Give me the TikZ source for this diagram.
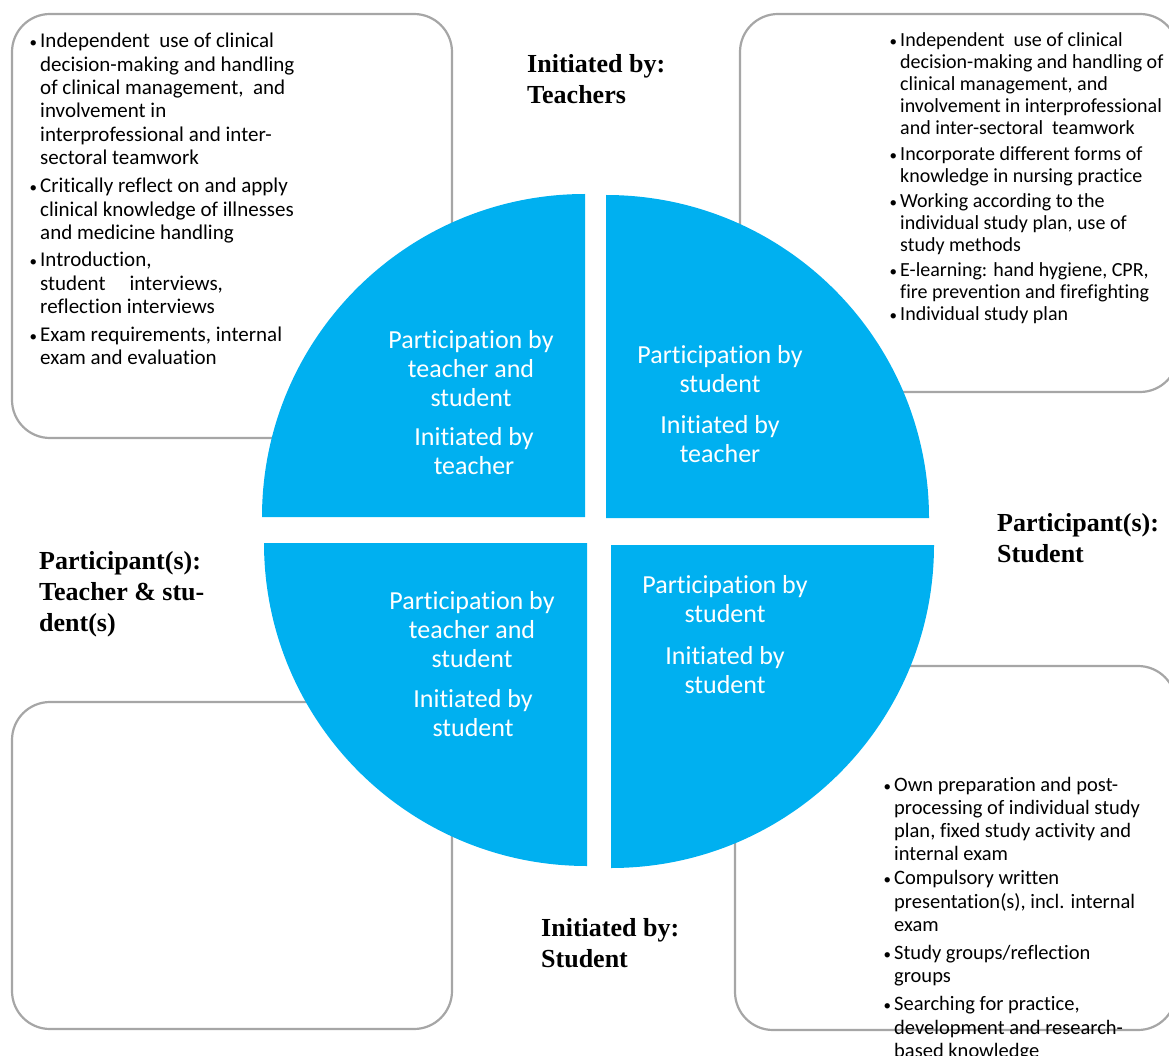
\documentclass[tikz,border=0pt]{standalone}
\usepackage{fontspec}
\setmainfont{Carlito}[Ligatures=NoCommon]
\newfontfamily\labfont{Liberation Serif}
\definecolor{qblue}{HTML}{00B0F0}
\definecolor{boxgray}{HTML}{A6A6A6}
\newcommand\bu{\llap{{\fontsize{15}{15}\selectfont\textbullet}\hspace{3pt}}}
\begin{document}
\begin{tikzpicture}[x=1pt,y=-1pt,
  box/.style={draw=boxgray,line width=2.2pt,rounded corners=38pt,fill=white},
  quad/.style={fill=qblue},
  qtext/.style={text=white,align=center,font=\fontsize{26}{28.7}\selectfont,inner sep=0pt,anchor=north},
  btext/.style={align=left,anchor=north west,inner sep=0pt},
  lab/.style={align=left,anchor=north west,inner sep=0pt,font=\labfont\bfseries\fontsize{26}{31}\selectfont}]
\useasboundingbox (0,0) rectangle (1169,1056);
\clip (0,0) rectangle (1169,1056);
% boxes
\draw[box] (12,14) rectangle (452,438);
\draw[box] (740,14) rectangle (1178,392);
\draw[box] (12,702) rectangle (452,1029);
\draw[box] (735,666) rectangle (1176,1030);
% quadrants
\fill[quad] (585,517) -- (262,517) arc[start angle=180,end angle=270,radius=323] -- cycle;
\fill[quad] (606,518) -- (606,195) arc[start angle=270,end angle=360,radius=323] -- cycle;
\fill[quad] (611,545) -- (934,545) arc[start angle=0,end angle=90,radius=323] -- cycle;
\fill[quad] (587,543) -- (587,866) arc[start angle=90,end angle=180,radius=323] -- cycle;
% quadrant texts
\node[qtext] (q1a) at (471,330.7) {Participation by\\teacher and\\student};
\node[qtext] (q1b) at (474,427.7) {Initiated by\\teacher};
\node[qtext] (q2a) at (720,345.7) {Participation by\\student};
\node[qtext] (q2b) at (720,415.7) {Initiated by\\teacher};
\node[qtext] (q3a) at (472,591.7) {Participation by\\teacher and\\student};
\node[qtext] (q3b) at (473,689.7) {Initiated by\\student};
\node[qtext] (q4a) at (725,575.7) {Participation by\\student};
\node[qtext] (q4b) at (725,646.7) {Initiated by\\student};
% labels
\node[lab] (l1) at (527,54) {Initiated by:\\Teachers};
\node[lab] (l2) at (997,513) {Participant(s):\\Student};
\node[lab] (l3) at (39,551) {Participant(s):\\Teacher \& stu-\\dent(s)};
\node[lab] (l4) at (541,918) {Initiated by:\\Student};
% bullet texts
\node[btext,font=\fontsize{21}{23.4}\selectfont] (tlt) at (40,33) {%
\bu Independent\ \ use of clinical\\
decision-making and handling\\
of clinical management,\ \ and\\
involvement in\\
interprofessional and inter-\\
sectoral teamwork\\[4.5pt]
\bu Critically reflect on and apply\\
clinical knowledge of illnesses\\
and medicine handling\\[4pt]
\bu Introduction,\\
student\hspace{24pt}interviews,\\
reflection interviews\\[4pt]
\bu Exam requirements, internal\\
exam and evaluation};
\node[btext,font=\fontsize{20}{22}\selectfont] (trt) at (900,32.8) {%
\bu Independent\ \ use of clinical\\
decision-making and handling of\\
clinical management, and\\
involvement in interprofessional\\
and inter-sectoral\ \ teamwork\\[4pt]
\bu Incorporate different forms of\\
knowledge in nursing practice\\[3pt]
\bu Working according to the\\
individual study plan, use of\\
study methods\\[3pt]
\bu E-learning: hand hygiene, CPR,\\
fire prevention and firefighting\\
\bu Individual study plan};
\node[btext,font=\fontsize{20.5}{23.2}\selectfont] (brt) at (894,776.6) {%
\bu Own preparation and post-\\
processing of individual study\\
plan, fixed study activity and\\
internal exam\\[1pt]
\bu Compulsory written\\
presentation(s), incl. internal\\
exam\\[5pt]
\bu Study groups/reflection\\
groups\\[5pt]
\bu Searching for practice,\\
development and research-\\
based knowledge};
\end{tikzpicture}
\end{document}
